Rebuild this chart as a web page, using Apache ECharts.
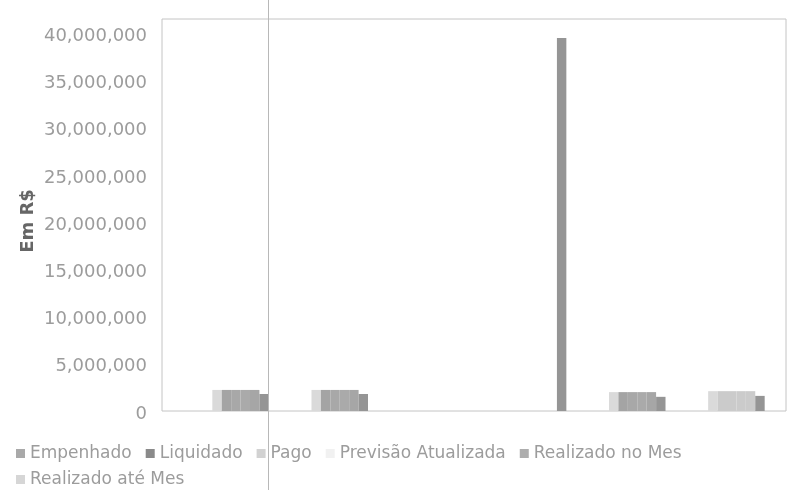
<!DOCTYPE html>
<html>
<head>
<meta charset="utf-8">
<title>Em R$</title>
<script src="https://cdn.jsdelivr.net/npm/echarts@6/dist/echarts.min.js"></script>
<style>
    html, body { margin: 0; padding: 0; background: #fff; }
    #main { width: 792px; height: 490px; }
</style>
</head>
<body>
<div id="main"></div>
<script>
// categorias (sem rótulo visível no gráfico)
var categorias = ['1', '2', '3', '4', '5', '6'];

// valores em R$
var empenhado    = [2230000, 2230000, 0, 0, 2000000, 2100000];
var liquidado    = [2230000, 2230000, 0, 0, 2000000, 2100000];
var pago         = [2230000, 2230000, 0, 0, 2000000, 2100000];
var previsao     = [2230000, 2230000, 0, 0, 2000000, 2100000];
var realizadoMes = [2230000, 2230000, 0, 0, 2000000, 2100000];
var realizadoAte = [1800000, 1800000, 0, 39500000, 1500000, 1600000];

var nomes = ['Empenhado', 'Liquidado', 'Pago', 'Previsão Atualizada', 'Realizado no Mes', 'Realizado até Mes'];
var valores = [empenhado, liquidado, pago, previsao, realizadoMes, realizadoAte];
var corBarra = ['#dadada', '#a4a4a4', '#a8a8a8', '#aaaaaa', '#a6a6a6', '#959595'];
var corLegenda = ['#a9a9a9', '#8a8a8a', '#d2d2d2', '#f1f1f1', '#adadad', '#d6d6d6'];

var yMax = 41500000;
var fonte = 'DejaVu Sans';

var chart = echarts.init(document.getElementById('main'));

function legendaItem(i) {
    return { name: nomes[i], itemStyle: { color: corLegenda[i] } };
}

var series = nomes.map(function (nome, i) {
    return {
        name: nome,
        type: 'bar',
        xAxisIndex: 1,
        yAxisIndex: 1,
        barGap: '0%',
        barCategoryGap: '43%',
        itemStyle: {
            color: function (p) {
                // o último grupo aparece mais claro na imagem
                if (p.dataIndex === 5 && i > 0 && i < 5) return '#cbcbcb';
                return corBarra[i];
            }
        },
        data: valores[i]
    };
});

var legendaTexto = { fontFamily: fonte, fontSize: 17, color: '#9c9c9c' };

var option = {
    backgroundColor: '#ffffff',
    animation: false,
    grid: [
        { left: 162, right: 6, top: 19, bottom: 79, show: true, borderColor: '#c4c4c4', borderWidth: 1, backgroundColor: '#fff' },
        { left: 191, right: 6, top: 19, bottom: 79 }
    ],
    legend: [
        {
            left: 11, top: 440, itemWidth: 9, itemHeight: 9, itemGap: 14, icon: 'rect',
            textStyle: legendaTexto,
            data: [0, 1, 2, 3, 4].map(legendaItem)
        },
        {
            left: 11, top: 466, itemWidth: 9, itemHeight: 9, icon: 'rect',
            textStyle: legendaTexto,
            data: [legendaItem(5)]
        }
    ],
    xAxis: [
        { gridIndex: 0, type: 'category', data: categorias, show: false },
        { gridIndex: 1, type: 'category', data: categorias, show: false }
    ],
    yAxis: [
        {
            gridIndex: 0, type: 'value', min: 0, max: yMax, interval: 5000000,
            name: 'Em R$', nameLocation: 'middle', nameGap: 125, nameMoveOverlap: false,
            nameTextStyle: { fontFamily: fonte, fontSize: 18, fontWeight: 'bold', color: '#666', padding: [0, 12, 0, 0] },
            axisLine: { show: false }, axisTick: { show: false }, splitLine: { show: false },
            axisLabel: {
                margin: 15, showMaxLabel: false,
                formatter: function (v) { return '{n|' + v.toLocaleString('en-US') + '}'; },
                rich: {
                    n: { fontFamily: fonte, fontSize: 18, color: '#9c9c9c', padding: [6, 0, 0, 0] }
                }
            }
        },
        { gridIndex: 1, type: 'value', min: 0, max: yMax, show: false }
    ],
    graphic: [
        { type: 'line', silent: true, z: 100, shape: { x1: 268.5, y1: 0, x2: 268.5, y2: 490 }, style: { stroke: '#b8b8b8', lineWidth: 1 } }
    ],
    series: series
};

chart.setOption(option);
</script>
</body>
</html>
